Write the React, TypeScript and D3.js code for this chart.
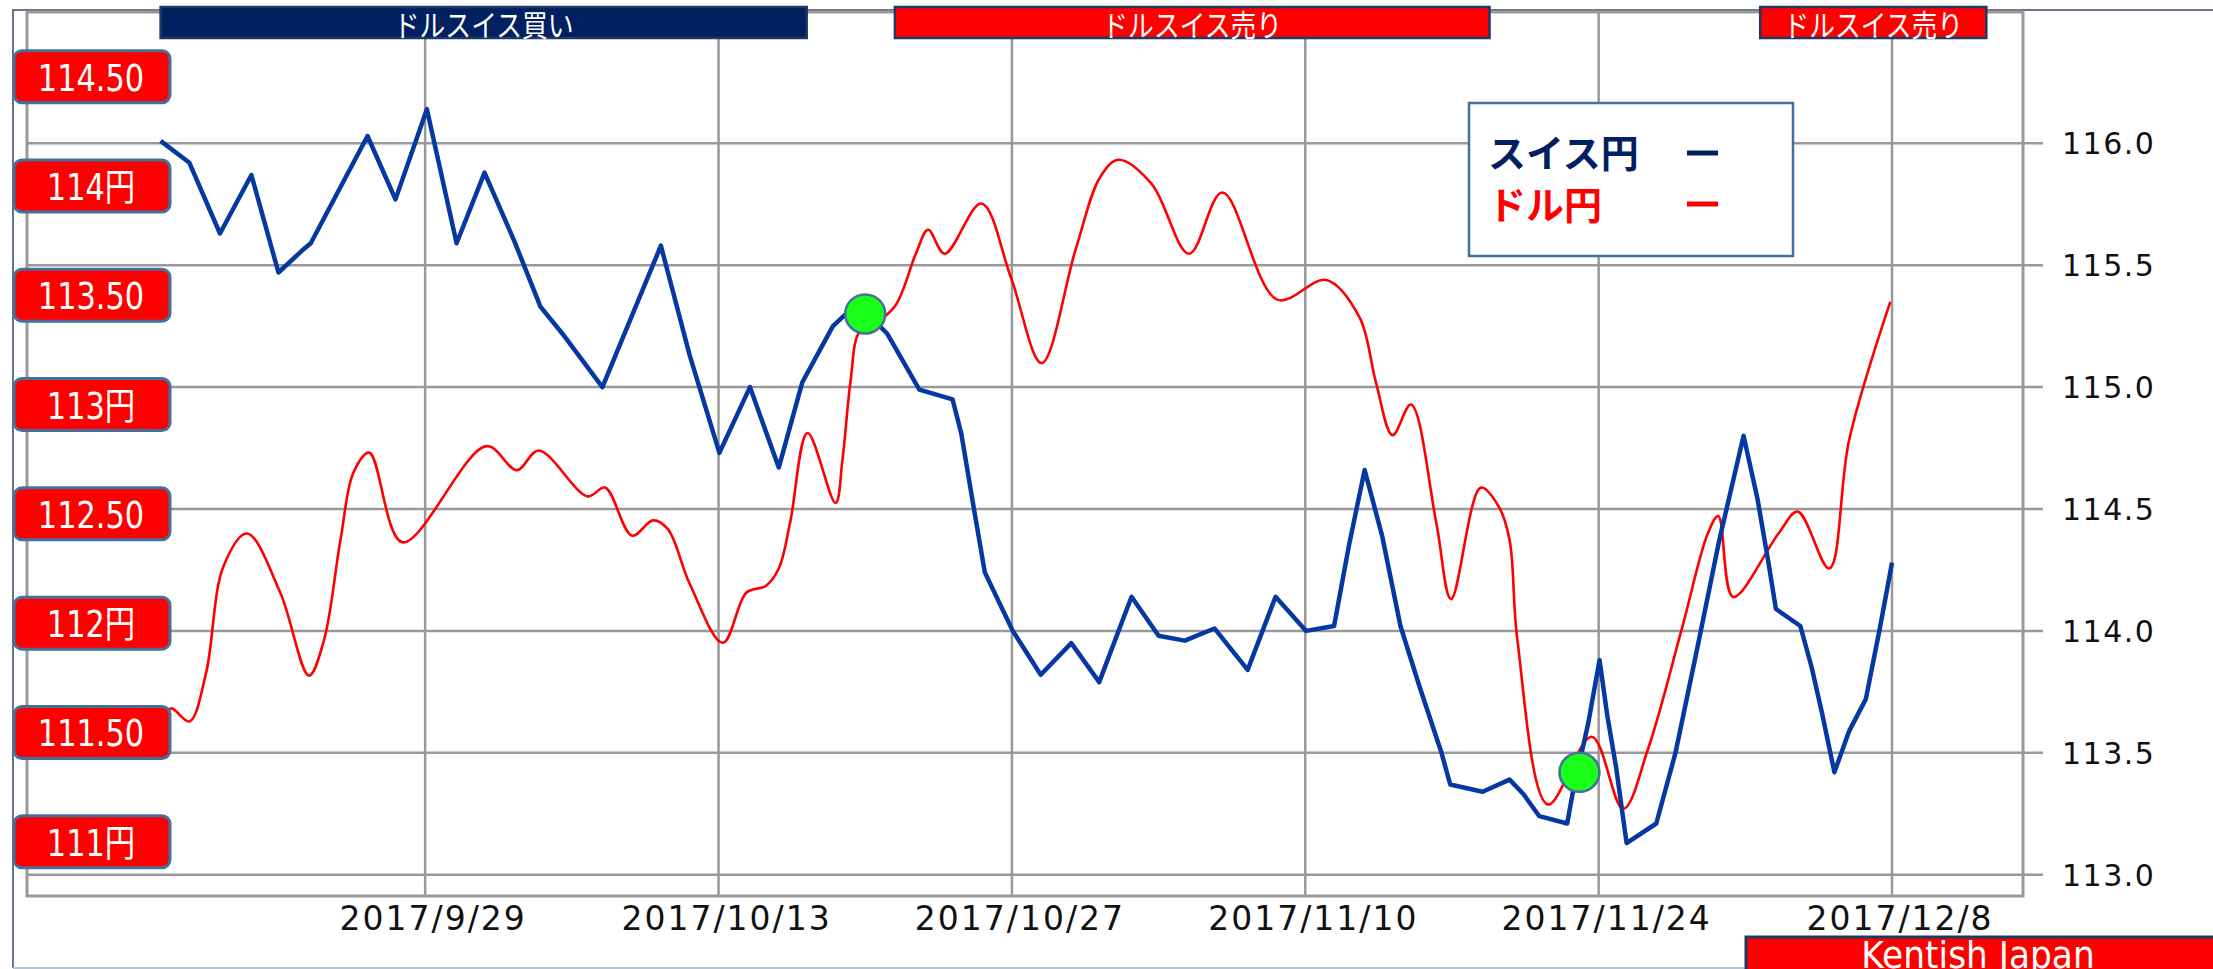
import * as d3 from 'd3';
import { useEffect, useRef } from 'react';

const width = 2213;
const height = 969;

// bottom axis / vertical grid
const tickDates = ['2017-09-29 00', '2017-10-13 00', '2017-10-27 00', '2017-11-10 00', '2017-11-24 00', '2017-12-08 00'];
// right axis (スイス円)
const rightTicks = [113.0, 113.5, 114.0, 114.5, 115.0, 115.5, 116.0];
// left labels (ドル円)
const leftTicks = [114.5, 114, 113.5, 113, 112.5, 112, 111.5, 111];
const leftLabels = ['114.50', '114円', '113.50', '113円', '112.50', '112円', '111.50', '111円'];

// スイス円 (blue, right axis)
const chfTimes = [
  '2017-09-16 09', '2017-09-17 18', '2017-09-19 05', '2017-09-20 17', '2017-09-22 00', '2017-09-23 03',
  '2017-09-23 13', '2017-09-26 06', '2017-09-27 14', '2017-09-29 02', '2017-09-30 12', '2017-10-01 20',
  '2017-10-03 06', '2017-10-04 12', '2017-10-05 13', '2017-10-07 11', '2017-10-10 06', '2017-10-11 15',
  '2017-10-13 01', '2017-10-14 12', '2017-10-15 21', '2017-10-17 00', '2017-10-18 11', '2017-10-19 02',
  '2017-10-20 00', '2017-10-21 01', '2017-10-22 14', '2017-10-24 04', '2017-10-24 14', '2017-10-25 05',
  '2017-10-25 17', '2017-10-26 13', '2017-10-27 01', '2017-10-28 09', '2017-10-29 20', '2017-10-31 04',
  '2017-11-01 17', '2017-11-03 00', '2017-11-04 06', '2017-11-05 16', '2017-11-07 06', '2017-11-08 14',
  '2017-11-10 01', '2017-11-11 09', '2017-11-12 02', '2017-11-12 20', '2017-11-13 16', '2017-11-14 13',
  '2017-11-15 11', '2017-11-16 12', '2017-11-16 22', '2017-11-18 11', '2017-11-19 18', '2017-11-20 10',
  '2017-11-21 04', '2017-11-22 12', '2017-11-22 18', '2017-11-23 12', '2017-11-24 01', '2017-11-24 10',
  '2017-11-24 20', '2017-11-25 08', '2017-11-26 18', '2017-11-27 16', '2017-11-28 17', '2017-11-29 18',
  '2017-11-30 22', '2017-12-01 14', '2017-12-02 02', '2017-12-02 11', '2017-12-03 15', '2017-12-04 04',
  '2017-12-04 16', '2017-12-05 06', '2017-12-05 23', '2017-12-06 18', '2017-12-07 10', '2017-12-08 00'
];
const chfValues = [
  116.01, 115.92, 115.63, 115.87, 115.47, 115.56,
  115.59, 116.03, 115.77, 116.14, 115.59, 115.88,
  115.6, 115.33, 115.22, 115.0, 115.58, 115.13,
  114.73, 115.0, 114.67, 115.02, 115.25, 115.3,
  115.31, 115.22, 114.99, 114.95, 114.81, 114.49,
  114.24, 114.09, 114.0, 113.82, 113.95, 113.79,
  114.14, 113.98, 113.96, 114.01, 113.84, 114.14,
  114.0, 114.02, 114.35, 114.66, 114.39, 114.02,
  113.77, 113.5, 113.37, 113.34, 113.39, 113.33,
  113.24, 113.21, 113.33, 113.62, 113.88, 113.65,
  113.44, 113.13, 113.21, 113.5, 113.93, 114.37,
  114.8, 114.54, 114.29, 114.09, 114.02, 113.85,
  113.66, 113.42, 113.59, 113.72, 114.01, 114.28
];

// ドル円 (red, left labels)
const usdTimes = [
  '2017-09-16 17', '2017-09-16 22', '2017-09-17 18', '2017-09-18 13', '2017-09-19 09', '2017-09-20 12',
  '2017-09-22 02', '2017-09-23 11', '2017-09-24 04', '2017-09-24 23', '2017-09-25 14', '2017-09-26 08',
  '2017-09-27 22', '2017-10-01 22', '2017-10-03 09', '2017-10-04 10', '2017-10-06 18', '2017-10-07 14',
  '2017-10-08 21', '2017-10-09 21', '2017-10-10 14', '2017-10-11 15', '2017-10-13 05', '2017-10-14 08',
  '2017-10-15 06', '2017-10-15 21', '2017-10-16 10', '2017-10-17 06', '2017-10-18 14', '2017-10-18 22',
  '2017-10-19 07', '2017-10-19 17', '2017-10-20 07', '2017-10-21 10', '2017-10-22 10', '2017-10-23 00',
  '2017-10-23 19', '2017-10-25 13', '2017-10-26 23', '2017-10-28 10', '2017-10-30 01', '2017-10-31 05',
  '2017-11-01 02', '2017-11-02 16', '2017-11-04 11', '2017-11-06 01', '2017-11-08 16', '2017-11-11 00',
  '2017-11-12 14', '2017-11-13 09', '2017-11-14 04', '2017-11-15 01', '2017-11-16 06', '2017-11-16 23',
  '2017-11-18 09', '2017-11-19 06', '2017-11-19 18', '2017-11-20 03', '2017-11-21 14', '2017-11-23 16',
  '2017-11-25 04', '2017-11-26 09', '2017-11-27 23', '2017-11-29 05', '2017-11-29 17', '2017-11-30 10',
  '2017-12-02 14', '2017-12-03 12', '2017-12-05 00', '2017-12-05 23', '2017-12-07 22'
];
const usdValues = [
  111.6, 111.61, 111.55, 111.77, 112.26, 112.41,
  112.14, 111.76, 111.92, 112.38, 112.69, 112.78,
  112.37, 112.81, 112.7, 112.79, 112.58, 112.62,
  112.4, 112.47, 112.43, 112.18, 111.91, 112.14,
  112.17, 112.25, 112.46, 112.87, 112.55, 112.75,
  113.1, 113.33, 113.36, 113.45, 113.69, 113.8,
  113.69, 113.92, 113.58, 113.19, 113.71, 114.04,
  114.12, 114.01, 113.69, 113.97, 113.48, 113.57,
  113.4, 113.1, 112.86, 113.0, 112.46, 112.11,
  112.62, 112.53, 112.38, 111.92, 111.17, 111.48,
  111.15, 111.43, 111.97, 112.41, 112.49, 112.12,
  112.41, 112.51, 112.25, 112.84, 113.47
];

// crossing marks (on the スイス円 scale)
const crossTimes = ['2017-10-20 00', '2017-11-23 02'];
const crossValues = [115.3, 113.42];

// signal banners along the top
const signalNames = ['ドルスイス買い', 'ドルスイス売り', 'ドルスイス売り'];
const signalTypes = ['buy', 'sell', 'sell'];
const signalStarts = ['2017-09-16 09', '2017-10-21 10', '2017-12-01 17'];
const signalEnds = ['2017-10-17 05', '2017-11-18 19', '2017-12-12 12'];

const legendNames = ['スイス円', 'ドル円'];

export default function App() {
  const svgRef = useRef<SVGSVGElement>(null);

  useEffect(() => {
    const parse = d3.utcParse('%Y-%m-%d %H');
    const marginLeft = 27;
    const plotRight = 2023;
    const plotTop = 12;
    const plotBottom = 896;
    const navy = '#002060';
    const gridColor = '#999999';
    const jp = "'Noto Sans CJK JP', sans-serif";
    const sans = "'DejaVu Sans', 'Noto Sans CJK JP', sans-serif";

    // Create the positional scales.
    const x = d3
      .scaleUtc()
      .domain([parse('2017-09-10 00')!, parse('2017-12-14 06')!])
      .range([marginLeft, plotRight]);
    const yR = d3.scaleLinear().domain([113, 116]).range([874.7, 143.3]);
    const yL = d3.scaleLinear().domain([111, 114.5]).range([841.7, 76.7]);

    const svg = d3.select(svgRef.current);
    svg.selectAll('*').remove();
    svg.attr('width', width).attr('height', height).attr('viewBox', [0, 0, width, height]);

    svg.append('rect').attr('width', width).attr('height', height).attr('fill', '#fff');

    // outer frame
    svg
      .append('path')
      .attr('d', `M13,${height - 1}V10H${width}`)
      .attr('fill', 'none')
      .attr('stroke', '#66758a')
      .attr('stroke-width', 2);
    svg
      .append('line')
      .attr('x1', 13)
      .attr('x2', width)
      .attr('y1', height - 1)
      .attr('y2', height - 1)
      .attr('stroke', '#b8c4d4')
      .attr('stroke-width', 2);

    // grid
    const grid = svg.append('g').attr('stroke', gridColor).attr('stroke-width', 2.5);
    grid
      .selectAll('line.h')
      .data(rightTicks)
      .join('line')
      .attr('x1', marginLeft)
      .attr('x2', plotRight + 20)
      .attr('y1', (d) => yR(d))
      .attr('y2', (d) => yR(d));
    grid
      .selectAll('line.v')
      .data(tickDates)
      .join('line')
      .attr('x1', (d) => x(parse(d)!))
      .attr('x2', (d) => x(parse(d)!))
      .attr('y1', plotTop)
      .attr('y2', plotBottom);
    svg
      .append('rect')
      .attr('x', marginLeft)
      .attr('y', plotTop)
      .attr('width', plotRight - marginLeft)
      .attr('height', plotBottom - plotTop)
      .attr('fill', 'none')
      .attr('stroke', gridColor)
      .attr('stroke-width', 3);

    // right axis labels
    svg
      .append('g')
      .selectAll('text')
      .data(rightTicks)
      .join('text')
      .attr('x', plotRight + 39)
      .attr('y', (d) => yR(d) + 11)
      .attr('font-family', "'DejaVu Sans', sans-serif")
      .attr('font-size', 30)
      .attr('letter-spacing', 1.5)
      .attr('fill', '#111')
      .text((d) => d3.format('.1f')(d));

    // bottom axis labels
    svg
      .append('g')
      .selectAll('text')
      .data(tickDates)
      .join('text')
      .attr('x', (d) => x(parse(d)!) + 8)
      .attr('y', 930)
      .attr('text-anchor', 'middle')
      .attr('font-family', "'DejaVu Sans', sans-serif")
      .attr('font-size', 33)
      .attr('letter-spacing', 2)
      .attr('fill', '#111')
      .text((d) => d3.utcFormat('%Y/%-m/%-d')(parse(d)!));

    // ドル円 line
    const usd = usdTimes.map((t, i) => ({ date: parse(t)!, value: usdValues[i] }));
    svg
      .append('path')
      .datum(usd)
      .attr('fill', 'none')
      .attr('stroke', '#ff0000')
      .attr('stroke-width', 2.6)
      .attr(
        'd',
        d3
          .line<{ date: Date; value: number }>()
          .curve(d3.curveCatmullRom.alpha(0.5))
          .x((d) => x(d.date))
          .y((d) => yL(d.value))
      );

    // スイス円 line
    const chf = chfTimes.map((t, i) => ({ date: parse(t)!, value: chfValues[i] }));
    svg
      .append('path')
      .datum(chf)
      .attr('fill', 'none')
      .attr('stroke', '#0538a0')
      .attr('stroke-width', 4.5)
      .attr('stroke-linejoin', 'round')
      .attr(
        'd',
        d3
          .line<{ date: Date; value: number }>()
          .x((d) => x(d.date))
          .y((d) => yR(d.value))
      );

    // crossing marks
    svg
      .append('g')
      .selectAll('ellipse')
      .data(crossTimes)
      .join('ellipse')
      .attr('cx', (d) => x(parse(d)!))
      .attr('cy', (d, i) => yR(crossValues[i]))
      .attr('rx', 20)
      .attr('ry', 19.5)
      .attr('fill', '#1aff1a')
      .attr('stroke', '#41719c')
      .attr('stroke-width', 2.5);

    // left value labels
    const boxes = svg
      .append('g')
      .selectAll('g')
      .data(leftTicks)
      .join('g')
      .attr('transform', (d) => `translate(14,${yL(d)})`);
    boxes
      .append('rect')
      .attr('x', 0)
      .attr('y', -26)
      .attr('width', 156)
      .attr('height', 52)
      .attr('rx', 8)
      .attr('fill', '#ff0000')
      .attr('stroke', '#41719c')
      .attr('stroke-width', 3);
    boxes
      .append('text')
      .attr('transform', 'translate(77,14) scale(0.8,1)')
      .attr('text-anchor', 'middle')
      .attr('font-family', sans)
      .attr('font-size', 38)
      .attr('fill', '#fff')
      .text((d, i) => leftLabels[i]);

    // signal banners
    const banners = svg
      .append('g')
      .selectAll('g')
      .data(signalNames)
      .join('g');
    banners
      .append('rect')
      .attr('x', (d, i) => x(parse(signalStarts[i])!))
      .attr('y', 7)
      .attr('width', (d, i) => x(parse(signalEnds[i])!) - x(parse(signalStarts[i])!))
      .attr('height', 31)
      .attr('fill', (d, i) => (signalTypes[i] === 'buy' ? navy : '#ff0000'))
      .attr('stroke', '#1f3864')
      .attr('stroke-width', 2.5);
    banners
      .append('text')
      .attr(
        'transform',
        (d, i) =>
          `translate(${(x(parse(signalStarts[i])!) + x(parse(signalEnds[i])!)) / 2},23) scale(0.86,1)`
      )
      .attr('dominant-baseline', 'central')
      .attr('text-anchor', 'middle')
      .attr('font-family', jp)
      .attr('font-size', 30)
      .attr('fill', '#fff')
      .text((d) => d);

    // legend
    const legend = svg.append('g');
    legend
      .append('rect')
      .attr('x', 1469)
      .attr('y', 103)
      .attr('width', 324)
      .attr('height', 153)
      .attr('fill', '#fff')
      .attr('stroke', '#41719c')
      .attr('stroke-width', 2.5);
    const legendColors = [navy, '#ff0000'];
    legendNames.forEach((name, i) => {
      legend
        .append('text')
        .attr('x', 1488)
        .attr('y', 167 + i * 52)
        .attr('font-family', jp)
        .attr('font-weight', 700)
        .attr('font-size', 38)
        .attr('fill', legendColors[i])
        .text(name);
      legend
        .append('line')
        .attr('x1', 1687)
        .attr('x2', 1718)
        .attr('y1', 153 + i * 51)
        .attr('y2', 153 + i * 51)
        .attr('stroke', legendColors[i])
        .attr('stroke-width', 5);
    });

    // credit
    svg
      .append('rect')
      .attr('x', 1746)
      .attr('y', 937)
      .attr('width', 480)
      .attr('height', 40)
      .attr('fill', '#ff0000')
      .attr('stroke', '#1f3864')
      .attr('stroke-width', 3);
    svg
      .append('text')
      .attr('transform', 'translate(1978,968) scale(0.93,1)')
      .attr('text-anchor', 'middle')
      .attr('font-family', sans)
      .attr('font-size', 37)
      .attr('fill', '#fff')
      .text('Kentish Japan');
  });

  return (
    <div style={{ position: 'absolute', left: 0, top: 0, width, height, overflow: 'hidden' }}>
      <svg ref={svgRef} style={{ display: 'block' }}></svg>
    </div>
  );
}
